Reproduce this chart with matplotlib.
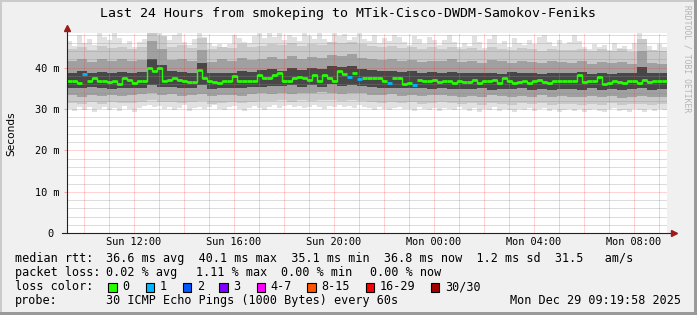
import numpy as np
import matplotlib
matplotlib.use("Agg")
import matplotlib.pyplot as plt
from matplotlib.patches import Rectangle

# ---------------- data ----------------
title = "Last 24 Hours from smokeping to MTik-Cisco-DWDM-Samokov-Feniks"
start_hour = 9 + 20 / 60     # Sun 09:20
end_hour = 33 + 20 / 60      # Mon 09:20
bin_hours = 0.2              # 12 minute bins (median, min, max)
bin_hours_q = 0.4            # 24 minute bins (quantile bands)

median_ms = [
    36.7, 36.7, 36.3, 38.4, 36.9, 37.5, 36.7, 36.9, 36.5, 36.7, 36.1, 37.4, 37.1, 36.3, 36.7, 36.7, 39.8, 39.1, 39.8, 36.9,
    37.1, 37.4, 37.1, 36.9, 36.5, 36.5, 39.5, 37.5, 36.7, 36.5, 36.3, 36.7, 36.7, 37.9, 36.9, 36.9, 36.7, 36.9, 38.2, 37.4,
    37.4, 38.3, 38.7, 36.7, 36.7, 37.5, 37.7, 37.4, 37.1, 38.3, 36.9, 38.3, 37.4, 36.9, 39.1, 38.5, 37.8, 38.7, 37.2, 37.5,
    37.5, 37.5, 37.4, 36.9, 36.3, 37.5, 37.5, 36.1, 36.3, 35.9, 37.1, 36.9, 36.7, 37.1, 36.5, 36.7, 36.7, 36.3, 36.7, 36.5,
    36.5, 37.1, 36.3, 36.9, 36.7, 37.1, 36.3, 37.4, 36.7, 36.3, 36.5, 36.9, 36.3, 36.7, 37.1, 36.5, 36.3, 36.9, 36.7, 36.9,
    36.7, 36.7, 38.2, 36.5, 36.7, 36.9, 37.7, 36.1, 36.3, 36.7, 36.5, 36.3, 36.7, 36.7, 36.3, 37.1, 36.5, 36.9, 36.7, 36.9,
]
loss_count = [
    0, 0, 0, 1, 0, 0, 0, 0, 0, 0, 0, 0, 0, 0, 0, 0, 0, 0, 0, 0,
    0, 0, 0, 0, 0, 0, 0, 0, 0, 0, 0, 0, 0, 0, 0, 0, 0, 0, 0, 0,
    0, 0, 0, 0, 0, 0, 0, 0, 0, 0, 0, 0, 0, 0, 0, 0, 1, 0, 1, 0,
    0, 0, 0, 0, 1, 0, 0, 0, 0, 1, 0, 0, 0, 0, 0, 0, 0, 0, 0, 0,
    0, 0, 0, 0, 0, 0, 0, 0, 0, 0, 0, 0, 0, 0, 0, 0, 0, 0, 0, 0,
    0, 0, 0, 0, 0, 0, 0, 0, 0, 0, 0, 0, 0, 0, 0, 0, 0, 0, 0, 0,
]
ping_max = [
    46.5, 45.2, 47.8, 46.0, 47.0, 45.5, 48.3, 47.5, 46.8, 48.3, 47.2, 45.8, 46.5, 44.9, 46.2, 47.0, 48.3, 48.3, 48.3, 46.4,
    46.8, 47.9, 48.3, 46.2, 45.5, 46.9, 48.3, 47.4, 46.0, 45.2, 45.8, 44.9, 45.6, 47.8, 47.1, 46.3, 45.9, 47.6, 48.3, 47.2,
    48.3, 47.5, 48.3, 46.8, 48.0, 47.3, 46.5, 48.3, 47.7, 46.9, 48.3, 47.0, 46.2, 48.3, 47.6, 48.1, 46.8, 47.4, 48.3, 46.9,
    46.5, 47.8, 45.9, 47.2, 46.4, 48.0, 47.5, 46.1, 45.4, 47.7, 46.9, 45.8, 47.3, 46.6, 45.5, 46.8, 47.9, 46.2, 45.1, 46.0,
    45.3, 47.6, 46.1, 44.8, 46.9, 47.8, 45.6, 46.4, 45.0, 47.2, 46.0, 45.4, 46.7, 45.8, 47.5, 48.0, 46.3, 45.2, 46.8, 45.7,
    46.2, 47.8, 46.5, 45.0, 44.6, 45.8, 44.9, 45.5, 44.2, 46.0, 44.8, 45.3, 44.5, 45.9, 48.3, 44.7, 45.2, 44.0, 45.6, 44.9,
]
ping_min = [
    30.1, 29.6, 30.4, 29.8, 30.6, 29.3, 30.0, 30.5, 29.7, 30.2, 29.5, 30.8, 30.0, 29.4, 30.3, 30.7, 30.9, 30.4, 30.8, 29.9,
    30.5, 29.8, 30.3, 30.9, 29.6, 30.2, 30.6, 29.9, 30.4, 31.0, 30.1, 29.7, 30.5, 30.8, 30.0, 29.5, 30.3, 30.7, 30.2, 29.8,
    30.6, 30.9, 30.3, 30.7, 31.0, 30.4, 30.8, 30.2, 30.6, 30.9, 30.5, 30.1, 30.7, 30.4, 31.0, 30.6, 30.8, 30.3, 30.9, 30.5,
    30.2, 29.8, 30.5, 30.0, 29.7, 30.3, 30.6, 29.9, 30.1, 29.5, 30.4, 30.0, 29.8, 30.2, 29.6, 30.3, 30.0, 29.7, 30.4, 29.9,
    29.6, 30.2, 29.4, 30.0, 29.8, 30.4, 29.5, 30.1, 29.7, 29.3, 30.0, 29.8, 30.3, 29.5, 29.9, 30.2, 29.6, 30.0, 29.4, 29.8,
    29.9, 29.5, 30.1, 29.3, 29.8, 30.0, 29.6, 29.2, 29.9, 30.2, 29.5, 29.8, 29.4, 30.0, 29.7, 29.3, 29.9, 29.6, 30.1, 29.8,
]
ping_p95 = [
    44.6, 45.0, 44.2, 45.3, 44.8, 45.1, 44.5, 44.9, 48.3, 47.6,
    45.0, 45.4, 44.7, 47.2, 44.5, 45.1, 44.8, 45.6, 44.9, 45.3,
    45.7, 45.4, 46.0, 45.2, 45.8, 45.5, 46.1, 45.9, 46.3, 45.6,
    45.2, 44.9, 45.3, 44.7, 45.0, 44.6, 44.9, 44.5, 45.1, 44.4,
    44.7, 44.3, 44.9, 44.6, 44.2, 44.8, 44.5, 44.1, 44.6, 44.3,
    44.2, 44.6, 44.0, 44.4, 44.1, 44.5, 43.9, 47.0, 44.2, 44.0,
]
ping_p85 = [
    41.6, 42.0, 41.3, 42.2, 41.7, 42.1, 41.5, 41.8, 46.5, 44.6,
    41.9, 42.2, 41.6, 44.3, 41.4, 42.0, 41.7, 42.4, 41.8, 42.2,
    42.5, 42.2, 42.8, 42.0, 42.6, 42.3, 43.0, 42.7, 43.2, 42.4,
    42.1, 41.8, 42.2, 41.6, 41.9, 41.4, 41.7, 41.5, 42.0, 41.3,
    41.6, 41.2, 41.8, 41.5, 41.2, 41.7, 41.4, 41.1, 41.6, 41.3,
    41.2, 41.5, 41.0, 41.3, 41.1, 41.4, 40.9, 44.0, 41.2, 41.0,
]
ping_p70 = [
    38.7, 39.1, 38.8, 39.0, 38.6, 38.9, 38.7, 39.0, 42.0, 40.6,
    39.3, 38.9, 38.7, 41.2, 38.6, 38.8, 38.7, 39.3, 38.9, 39.5,
    39.7, 39.3, 39.8, 39.4, 39.9, 39.6, 40.4, 40.2, 40.5, 39.7,
    39.5, 39.2, 39.3, 39.0, 39.2, 38.8, 38.9, 38.7, 39.0, 38.6,
    38.6, 38.8, 38.7, 38.5, 38.9, 38.6, 38.8, 38.5, 38.7, 38.6,
    38.7, 39.0, 38.5, 38.7, 38.5, 38.7, 38.6, 40.2, 38.6, 38.7,
]
ping_p30 = [
    35.0, 35.2, 35.3, 35.1, 34.9, 35.2, 35.1, 35.0, 35.8, 35.4,
    35.4, 35.2, 35.0, 35.7, 34.9, 35.1, 35.0, 35.2, 35.3, 35.4,
    35.6, 35.5, 35.7, 35.3, 35.8, 35.4, 36.0, 35.6, 35.9, 35.5,
    35.4, 35.2, 35.1, 35.0, 35.2, 35.1, 34.9, 35.0, 34.9, 34.8,
    34.8, 35.0, 34.7, 34.9, 34.8, 35.0, 34.7, 34.9, 34.6, 34.8,
    34.9, 34.7, 35.0, 34.6, 34.8, 34.7, 34.9, 35.0, 34.7, 34.8,
]
ping_p15 = [
    33.3, 33.0, 33.5, 33.1, 33.4, 33.2, 33.3, 33.6, 33.9, 33.5,
    33.6, 33.2, 33.4, 33.7, 33.1, 33.3, 33.5, 33.2, 33.6, 33.8,
    33.7, 33.9, 33.6, 34.0, 33.8, 34.1, 33.9, 33.7, 34.0, 33.8,
    33.5, 33.3, 33.6, 33.2, 33.4, 33.1, 33.3, 33.5, 33.2, 33.0,
    33.2, 32.9, 33.3, 33.1, 32.8, 33.2, 33.0, 33.3, 32.9, 33.1,
    33.0, 32.8, 33.1, 32.9, 33.2, 32.7, 33.0, 33.1, 32.8, 33.0,
]
ping_p05 = [
    31.5, 31.2, 31.7, 31.3, 31.6, 31.4, 31.5, 31.8, 32.1, 31.7,
    31.8, 31.4, 31.6, 31.9, 31.3, 31.5, 31.7, 31.4, 31.8, 32.0,
    31.9, 32.1, 31.8, 32.2, 32.0, 32.3, 32.1, 31.9, 32.2, 32.0,
    31.7, 31.5, 31.8, 31.4, 31.6, 31.3, 31.5, 31.7, 31.4, 31.2,
    31.4, 31.1, 31.5, 31.3, 31.0, 31.4, 31.2, 31.5, 31.1, 31.3,
    31.2, 31.0, 31.3, 31.1, 31.4, 30.9, 31.2, 31.3, 31.0, 31.2,
]

x_tick_hours = [12, 16, 20, 24, 28, 32]
x_tick_labels = ["Sun 12:00", "Sun 16:00", "Sun 20:00", "Mon 00:00", "Mon 04:00", "Mon 08:00"]
y_ticks = [0, 10, 20, 30, 40]
y_tick_labels = ["0 ", "10 m", "20 m", "30 m", "40 m"]
y_max = 48.3

loss_labels = ["0", "1", "2", "3", "4-7", "8-15", "16-29", "30/30"]
loss_colors = ["#26ff00", "#00b8ff", "#0059ff", "#7e00ff", "#ff00ff", "#ff5500", "#ff0000", "#a10000"]

rtt_label = "median rtt:"
rtt_text = "36.6 ms avg  40.1 ms max  35.1 ms min  36.8 ms now  1.2 ms sd  31.5   am/s"
loss_label = "packet loss:"
loss_fields = ["0.02 % avg", "1.11 % max", "0.00 % min", "0.00 % now"]
color_label = "loss color:"
probe_label = "probe:"
probe_text = "30 ICMP Echo Pings (1000 Bytes) every 60s"
stamp_text = "Mon Dec 29 09:19:58 2025"
watermark = "RRDTOOL / TOBI OETIKER"

# ---------------- figure ----------------
W, H = 697, 315
MONO = "DejaVu Sans Mono"
fig = plt.figure(figsize=(W / 100, H / 100), dpi=100)
fig.patch.set_facecolor("#F0F0F0")


def fx(x):
    return x / W


def fy(y):
    return 1 - y / H


def px_rect(x, y, w, h, **kw):
    fig.add_artist(Rectangle((fx(x), fy(y + h)), w / W, h / H,
                             transform=fig.transFigure, **kw))


# 3D frame
px_rect(0, 0, W, 2, color="#CBCBCB", lw=0)
px_rect(0, 0, 2, H, color="#CBCBCB", lw=0)
px_rect(0, H - 3, W, 3, color="#999999", lw=0)
px_rect(W - 3, 0, 3, H, color="#999999", lw=0)

ax = fig.add_axes([fx(67), fy(233.3), 600 / W, 200 / H])
ax.set_facecolor("white")
ax.set_xlim(start_hour, end_hour)
ax.set_ylim(0, y_max)
for s in ax.spines.values():
    s.set_visible(False)

n = len(median_ms)
edges = start_hour + bin_hours * np.arange(n + 1)
nq = len(ping_p95)
edges_q = start_hour + bin_hours_q * np.arange(nq + 1)


def stepify(a):
    a = np.asarray(a, dtype=float)
    return np.append(a, a[-1])


# smoke, outer to inner
ax.fill_between(edges, stepify(ping_min), stepify(ping_max), step="post",
                color="#e1e1e1", lw=0, zorder=1)
bands = [(ping_p05, ping_p95, "#c9c9c9"),
         (ping_p15, ping_p85, "#a0a0a0"),
         (ping_p30, ping_p70, "#474747")]
for k, (lo, hi, col) in enumerate(bands):
    ax.fill_between(edges_q, stepify(lo), stepify(hi), step="post",
                    color=col, lw=0, zorder=1.1 + 0.1 * k)

# dotted grid (drawn over the smoke like rrdtool)
minor_c = (0.55, 0.55, 0.55, 0.6)
major_c = (1.0, 0.15, 0.15, 0.4)
dot = (0, (1, 1))
for h in range(10, 34):
    if h % 2:
        ax.axvline(h, color=minor_c, lw=0.72, ls=dot, zorder=2)
for v in range(2, 49, 2):
    if v % 10:
        ax.axhline(v, color=minor_c, lw=0.72, ls=dot, zorder=2)
for h in range(10, 34, 2):
    ax.axvline(h, color=major_c, lw=0.72, ls=dot, zorder=2.1)
for v in y_ticks[1:]:
    ax.axhline(v, color=major_c, lw=0.72, ls=dot, zorder=2.1)

# median line coloured by loss
med = np.asarray(median_ms, dtype=float)
loss = np.asarray(loss_count)
for lvl, col in [(0, loss_colors[0]), (1, loss_colors[1])]:
    for i in range(n):
        if loss[i] == lvl:
            ax.plot([edges[i], edges[i + 1]], [med[i], med[i]], color=col,
                    lw=2.0, solid_capstyle="butt", zorder=3)
    for i in range(n - 1):
        if loss[i] == lvl and loss[i + 1] == lvl:
            ax.plot([edges[i + 1], edges[i + 1]], [med[i], med[i + 1]], color=col,
                    lw=1.0, zorder=3)

# axes lines and arrows
ax.plot([0, 0], [0, 1.025], transform=ax.transAxes, color="#222222", lw=0.8,
        clip_on=False, zorder=4)
ax.plot([-5 / 600, 1 + 6 / 600], [0, 0], transform=ax.transAxes, color="#222222",
        lw=0.8, clip_on=False, zorder=4)
ax.plot([0], [1 + 5 / 200], marker="^", ms=4, color="#9b1b1b", mec="#9b1b1b",
        transform=ax.transAxes, clip_on=False, zorder=5)
ax.plot([1 + 7 / 600], [0], marker=">", ms=4, color="#9b1b1b", mec="#9b1b1b",
        transform=ax.transAxes, clip_on=False, zorder=5)

# ticks
ax.set_xticks(x_tick_hours, x_tick_labels)
ax.set_yticks(y_ticks, y_tick_labels)
ax.tick_params(axis="x", length=0, pad=3.0, labelsize=7.4, labelcolor="#000000")
ax.tick_params(axis="y", length=2.2, width=0.7, color=major_c, pad=3.0,
               labelsize=7.4, labelcolor="#000000")
for lab in ax.get_xticklabels() + ax.get_yticklabels():
    lab.set_family(MONO)

# texts
fig.text(fx(348), fy(17.3), title, ha="center", va="baseline", family=MONO,
         fontsize=9.55, color="#000000")
fig.text(fx(11), fy(134), "Seconds", rotation=90, ha="center", va="center",
         family="DejaVu Sans", fontsize=7.6, color="#000000")
fig.text(fx(687), fy(5), watermark, rotation=270, ha="center", va="top",
         family=MONO, fontsize=5.8, color="#b4b4b4")

LF = 8.45
fig.text(fx(15), fy(262.3), rtt_label, family=MONO, fontsize=LF, va="baseline")
fig.text(fx(106.3), fy(262.3), rtt_text, family=MONO, fontsize=LF, va="baseline")
fig.text(fx(15), fy(276.3), loss_label, family=MONO, fontsize=LF, va="baseline")
for xpos, txt in zip([106.3, 196.0, 281.0, 370.0], loss_fields):
    fig.text(fx(xpos), fy(276.3), txt, family=MONO, fontsize=LF, va="baseline")
fig.text(fx(15), fy(290.3), color_label, family=MONO, fontsize=LF, va="baseline")
sw_x = [108.3, 145.7, 182.7, 219.3, 256.7, 307.3, 365.7, 430.7]
for xs, lab, col in zip(sw_x, loss_labels, loss_colors):
    px_rect(xs, 283.3, 8.3, 8.3, facecolor=col, edgecolor="#000000", lw=0.8)
    fig.text(fx(xs + 14), fy(290.3), lab, family=MONO, fontsize=LF, va="baseline")
fig.text(fx(15), fy(304.3), probe_label, family=MONO, fontsize=LF, va="baseline")
fig.text(fx(106.3), fy(304.3), probe_text, family=MONO, fontsize=LF, va="baseline")
fig.text(fx(681), fy(304.3), stamp_text, family=MONO, fontsize=LF, va="baseline",
         ha="right")

fig.savefig("out.png", dpi=100, facecolor=fig.get_facecolor())
